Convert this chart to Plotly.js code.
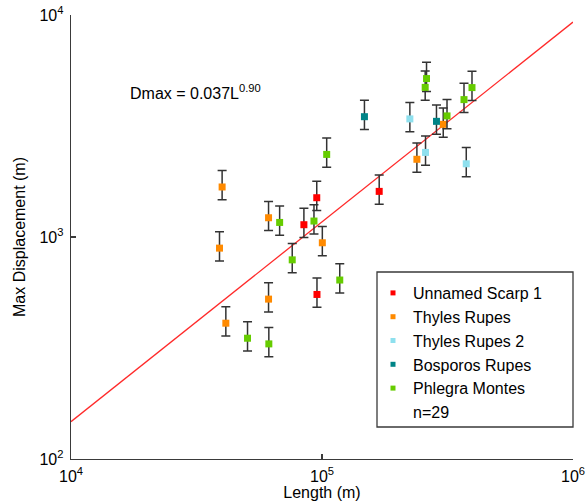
<!DOCTYPE html>
<html>
<head>
<meta charset="utf-8">
<script src="https://cdn.plot.ly/plotly-3.0.1.min.js"></script>
<style>html,body{margin:0;padding:0;background:#fff;}#chart{width:587px;height:502px;}</style>
</head>
<body>
<div id="chart"></div>
<script>
// ---- data ----
const seriesNames = ["Unnamed Scarp 1", "Thyles Rupes", "Thyles Rupes 2", "Bosporos Rupes", "Phlegra Montes"];
const seriesColors = ["#ff0000", "#ff8a00", "#8ee0ee", "#008487", "#66cc00"];

const unnamedL = [84700, 95300, 95500, 169000];
const unnamedD = [1136, 1503, 551, 1605];

const thylesL = [40000, 39050, 41390, 61240, 61240, 100300, 238800, 304100];
const thylesD = [1680, 891, 409, 1221, 525, 942, 2239, 3218];

const thyles2L = [223900, 258500, 375600];
const thyles2D = [3404, 2404, 2137];

const bosporosL = [147600, 285800];
const bosporosD = [3483, 3319];

const phlegraL = [104400, 67800, 92900, 76100, 117700, 50500, 61400, 260900, 257700, 314800, 367900, 395900];
const phlegraD = [2355, 1163, 1180, 789, 640, 350, 330, 5172, 4720, 3511, 4158, 4710];

const errPlusPct = 18.5;   // upper error, percent of D
const errMinusPct = 12.5;  // lower error, percent of D

const fitCoef = 0.037;
const fitExp = 0.90;
const fitRangeL = [1e4, 1e6];

const xTickVals = [1e4, 1e5, 1e6];
const xTickText = ["10<sup>4</sup>", "10<sup>5</sup>", "10<sup>6</sup>"];
const yTickVals = [1e2, 1e3, 1e4];
const yTickText = ["10<sup>2</sup>", "10<sup>3</sup>", "10<sup>4</sup>"];
const sampleCount = "n=29";

// ---- traces ----
const FONT = "Liberation Sans, Arial, Helvetica, sans-serif";
const allL = [unnamedL, thylesL, thyles2L, bosporosL, phlegraL];
const allD = [unnamedD, thylesD, thyles2D, bosporosD, phlegraD];

const traces = [];
// fit line
traces.push({
  x: fitRangeL,
  y: fitRangeL.map(L => fitCoef * Math.pow(L, fitExp)),
  mode: "lines",
  line: {color: "#ff2a2a", width: 1.3},
  showlegend: false,
  hoverinfo: "skip"
});
// data with error bars
for (let i = 0; i < seriesNames.length; i++) {
  traces.push({
    x: allL[i], y: allD[i],
    mode: "markers",
    type: "scatter",
    name: seriesNames[i],
    showlegend: false,
    marker: {symbol: "square", size: 7, color: seriesColors[i], line: {width: 0}},
    error_y: {type: "percent", symmetric: false, value: errPlusPct, valueminus: errMinusPct,
              color: "#333333", thickness: 1.5, width: 4.5}
  });
}
// legend entries
for (let i = 0; i < seriesNames.length; i++) {
  traces.push({
    x: [null], y: [null], mode: "markers", type: "scatter",
    name: seriesNames[i], showlegend: true,
    marker: {symbol: "square", size: 5, color: seriesColors[i]}
  });
}
traces.push({
  x: [null], y: [null], mode: "markers", type: "scatter",
  name: sampleCount, showlegend: true,
  marker: {symbol: "square", size: 5, color: "rgba(0,0,0,0)"}
});

const axisCommon = {
  type: "log",
  showline: true, linecolor: "#3a3a3a", linewidth: 1.3, mirror: false,
  ticks: "inside", ticklen: 5, tickcolor: "#3a3a3a", tickwidth: 1.3,
  showgrid: false, zeroline: false,
  tickmode: "array",
  tickfont: {family: FONT, size: 16, color: "#000"}
};

const layout = {
  width: 587, height: 502,
  margin: {l: 71, r: 14, t: 15, b: 43},
  paper_bgcolor: "#fff", plot_bgcolor: "#fff",
  font: {family: FONT, color: "#000"},
  xaxis: Object.assign({}, axisCommon, {
    range: [4, 6], tickvals: xTickVals, ticktext: xTickText,
    ticklabelstandoff: 2,
    title: {text: "Length (m)", font: {family: FONT, size: 16}, standoff: 3}
  }),
  yaxis: Object.assign({}, axisCommon, {
    range: [2, 4], tickvals: yTickVals, ticktext: yTickText,
    ticklabelstandoff: 3,
    title: {text: "Max Displacement (m)", font: {family: FONT, size: 16}, standoff: 10}
  }),
  showlegend: true,
  legend: {
    x: (373 - 71) / 502, y: (459 - 276) / 444, xanchor: "left", yanchor: "top",
    bgcolor: "rgba(0,0,0,0)", borderwidth: 0,
    font: {family: FONT, size: 16, color: "#000"},
    itemclick: false, itemdoubleclick: false
  },
  shapes: [{
    type: "rect", xref: "paper", yref: "paper",
    x0: (377 - 71) / 502, x1: (573 - 71) / 502,
    y0: (459 - 427) / 444, y1: (459 - 272) / 444,
    line: {color: "#3a3a3a", width: 1.3}, fillcolor: "rgba(0,0,0,0)", layer: "above"
  }],
  annotations: [{
    text: "Dmax = 0.037L<sup>0.90</sup>",
    xref: "paper", yref: "paper",
    x: (128 - 71) / 502, y: (459 - 92) / 444,
    xanchor: "left", yanchor: "middle", showarrow: false,
    font: {family: FONT, size: 16, color: "#000"}
  }]
};

Plotly.newPlot("chart", traces, layout, {displayModeBar: false, staticPlot: true});
</script>
</body>
</html>
